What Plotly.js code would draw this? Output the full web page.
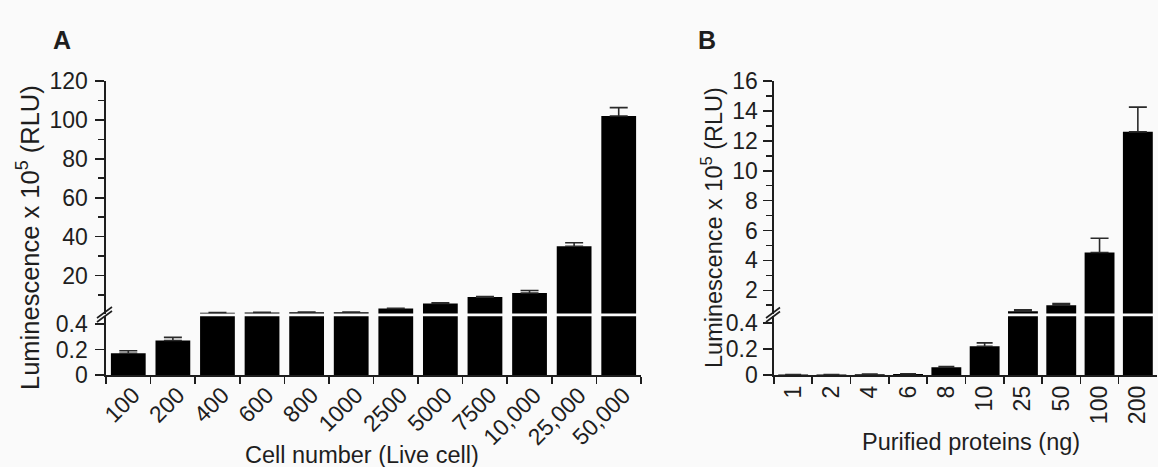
<!DOCTYPE html>
<html>
<head>
<meta charset="utf-8">
<script src="https://cdn.plot.ly/plotly-3.0.1.min.js"></script>
<style>
  html, body { margin: 0; padding: 0; background: #fafafa; }
  #chart { width: 1158px; height: 467px; }
</style>
</head>
<body>
<div id="chart"></div>
<script>
// ---------- Data (Luminescence x 10^5 RLU) ----------
const cellNumbers = ['100', '200', '400', '600', '800', '1000', '2500', '5000', '7500', '10,000', '25,000', '50,000'];
const cellLum     = [0.17, 0.27, 0.9, 1.0, 1.1, 1.1, 3.0, 5.6, 8.9, 11.0, 35.0, 102.0];
const cellErr     = [0.02, 0.025, 0.05, 0.05, 0.05, 0.05, 0.1, 0.3, 0.3, 1.3, 1.8, 4.3];

const proteinNg   = ['1', '2', '4', '6', '8', '10', '25', '50', '100', '200'];
const proteinLum  = [0.003, 0.003, 0.005, 0.008, 0.06, 0.22, 0.6, 1.0, 4.53, 12.6];
const proteinErr  = [0.001, 0.001, 0.002, 0.002, 0.005, 0.026, 0.09, 0.11, 0.95, 1.65];

// axis break values
const breakA = 0.46;
const breakB = 0.45;

// ---------- Styling ----------
const FONT = 'Arial, "Liberation Sans", sans-serif';
const INK = '#1e1e1e';
const BG = '#fafafa';

const W = 1158, H = 467;
const px = v => v / W;
const py = v => (H - v) / H;

function barTrace(xs, ys, errs, xa, ya, capw) {
  return {
    type: 'bar', x: xs, y: ys, xaxis: xa, yaxis: ya,
    marker: { color: '#000', line: { width: 0 } },
    error_y: { type: 'data', array: errs, arrayminus: errs.map(() => 0),
               symmetric: false, visible: true, color: '#2a2a2a', thickness: 1.6, width: capw },
    hoverinfo: 'x+y', showlegend: false
  };
}

// lower segment: all bars (clipped at the break), error bars only for bars below the break
const lowerA = cellLum;
const lowerAErr = cellErr.map((e, i) => cellLum[i] < breakA ? e : 0);
// upper segment: only bars that reach above the break
const upperA = cellLum.map(v => v >= breakA ? v : null);
const upperAErr = cellErr.map((e, i) => cellLum[i] >= breakA ? e : 0);

const lowerB = proteinLum;
const lowerBErr = proteinErr.map((e, i) => proteinLum[i] < breakB ? e : 0);
const upperB = proteinLum.map(v => v >= breakB ? v : null);
const upperBErr = proteinErr.map((e, i) => proteinLum[i] >= breakB ? e : 0);

const traces = [
  barTrace(cellNumbers, lowerA, lowerAErr, 'x', 'y', 9),
  barTrace(cellNumbers, upperA, upperAErr, 'x', 'y2', 9),
  barTrace(proteinNg, lowerB, lowerBErr, 'x2', 'y3', 8),
  barTrace(proteinNg, upperB, upperBErr, 'x2', 'y4', 9)
];

const lowerDom = [py(375), py(316.3)];
const upperDom = [py(313.5), py(81)];

const baseY = {
  showline: true, linecolor: INK, linewidth: 1.6, ticks: 'outside', tickcolor: INK,
  tickwidth: 1.6, ticklen: 9, showgrid: false, zeroline: false, fixedrange: true,
  tickfont: { family: FONT, size: 23, color: INK }, ticklabelstandoff: 3
};
const baseX = {
  type: 'category', showline: true, linecolor: INK, linewidth: 1.6, ticks: 'outside',
  tickcolor: INK, tickwidth: 1.6, ticklen: 7, tickson: 'boundaries', showgrid: false,
  zeroline: false, fixedrange: true, tickfont: { family: FONT, size: 23, color: INK }
};

const layout = {
  width: W, height: H,
  margin: { l: 0, r: 0, t: 0, b: 0 },
  paper_bgcolor: BG, plot_bgcolor: BG,
  bargap: 0.22,
  showlegend: false,
  xaxis: Object.assign({}, baseX, { domain: [px(106), px(641)], anchor: 'y', tickangle: -45,
          ticklabelshift: 5, ticklabelstandoff: -4 }),
  xaxis2: Object.assign({}, baseX, { domain: [px(774), px(1157)], anchor: 'y3', tickangle: -90 }),
  yaxis: Object.assign({}, baseY, { domain: lowerDom, anchor: 'x', range: [0, breakA],
          tickvals: [0, 0.2, 0.4], ticktext: ['0', '0.2', '0.4'] }),
  yaxis2: Object.assign({}, baseY, { domain: upperDom, anchor: 'x', range: [breakA, 120],
          tick0: 0, dtick: 20,
          minor: { dtick: 10, tick0: 0, ticks: 'outside', ticklen: 6, tickwidth: 1.6, tickcolor: INK, showgrid: false } }),
  yaxis3: Object.assign({}, baseY, { domain: lowerDom, anchor: 'x2', range: [0, breakB],
          tickvals: [0, 0.2, 0.4], ticktext: ['0', '0.2', '0.4'], ticklabelstandoff: 1 }),
  yaxis4: Object.assign({}, baseY, { domain: upperDom, anchor: 'x2', range: [breakB, 16],
          tick0: 0, dtick: 2, ticklabelstandoff: 1,
          minor: { dtick: 1, tick0: 0, ticks: 'outside', ticklen: 6, tickwidth: 1.6, tickcolor: INK, showgrid: false } }),
  shapes: [
    // axis break marks, panel A
    { type: 'line', xref: 'paper', yref: 'paper', x0: px(97), y0: py(318), x1: px(112), y1: py(307), line: { color: INK, width: 1.6 } },
    { type: 'line', xref: 'paper', yref: 'paper', x0: px(97), y0: py(322), x1: px(112), y1: py(311), line: { color: INK, width: 1.6 } },
    // axis break marks, panel B
    { type: 'line', xref: 'paper', yref: 'paper', x0: px(766), y0: py(318), x1: px(780), y1: py(307.5), line: { color: INK, width: 1.6 } },
    { type: 'line', xref: 'paper', yref: 'paper', x0: px(766), y0: py(322), x1: px(780), y1: py(311.5), line: { color: INK, width: 1.6 } }
  ],
  annotations: [
    { text: '<b>A</b>', xref: 'paper', yref: 'paper', x: px(62), y: py(40.5), xanchor: 'center', yanchor: 'middle',
      showarrow: false, font: { family: FONT, size: 25, color: INK } },
    { text: '<b>B</b>', xref: 'paper', yref: 'paper', x: px(707), y: py(40.5), xanchor: 'center', yanchor: 'middle',
      showarrow: false, font: { family: FONT, size: 25, color: INK } },
    { text: 'Luminescence x 10<sup>5</sup> (RLU)', xref: 'paper', yref: 'paper', x: px(28), y: py(238),
      xanchor: 'center', yanchor: 'middle', textangle: -90, showarrow: false,
      font: { family: FONT, size: 25.5, color: INK } },
    { text: 'Luminescence x 10<sup>5</sup> (RLU)', xref: 'paper', yref: 'paper', x: px(712), y: py(228),
      xanchor: 'center', yanchor: 'middle', textangle: -90, showarrow: false,
      font: { family: FONT, size: 23.5, color: INK } },
    { text: 'Cell number (Live cell)', xref: 'paper', yref: 'paper', x: px(362), y: py(455),
      xanchor: 'center', yanchor: 'middle', showarrow: false, borderpad: 0,
      font: { family: FONT, size: 23.5, color: INK } },
    { text: 'Purified proteins (ng)', xref: 'paper', yref: 'paper', x: px(971), y: py(442),
      xanchor: 'center', yanchor: 'middle', showarrow: false, borderpad: 0,
      font: { family: FONT, size: 23.5, color: INK } }
  ]
};

Plotly.newPlot('chart', traces, layout, { staticPlot: true, displayModeBar: false });
</script>
</body>
</html>
